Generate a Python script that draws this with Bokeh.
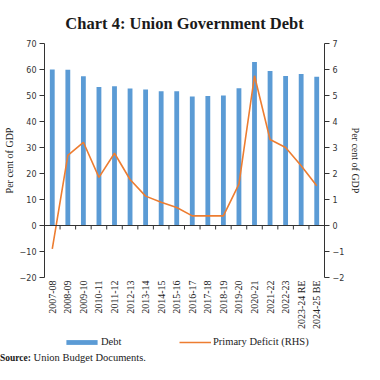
import math
from bokeh.plotting import figure
from bokeh.layouts import column
from bokeh.models import (FactorRange, Range1d, LinearAxis, FixedTicker, Title, Div,
                          Legend, LegendItem, Span)
from bokeh.embed import file_html
from bokeh.resources import INLINE

categories = ["2007-08", "2008-09", "2009-10", "2010-11", "2011-12", "2012-13",
              "2013-14", "2014-15", "2015-16", "2016-17", "2017-18", "2018-19",
              "2019-20", "2020-21", "2021-22", "2022-23", "2023-24 RE", "2024-25 BE"]
debt = [60.0, 59.9, 57.4, 53.3, 53.6, 52.7, 52.3, 51.6, 51.6, 49.6, 49.8, 50.0,
        52.8, 62.9, 59.4, 57.5, 58.3, 57.2]
primary_deficit = [-0.9, 2.7, 3.2, 1.85, 2.78, 1.77, 1.13, 0.89, 0.69, 0.37, 0.37, 0.37,
                   1.59, 5.76, 3.31, 3.0, 2.3, 1.53]
left_ticks = [-20, -10, 0, 10, 20, 30, 40, 50, 60, 70]
right_ticks = [-2, -1, 0, 1, 2, 3, 4, 5, 6, 7]

BAR = "#5B9BD5"
LINE = "#ED7D31"
AX = "#333333"
SERIF = "Liberation Serif"
SANS = "DejaVu Sans"

W = 364
FL, FR, FT, FB = 39, 38, 43, 54
FH = 235
H_MAIN = FT + FH + FB
H_LEG = 20
H_SRC = 364 - H_MAIN - H_LEG

# ---------------- main chart ----------------
p = figure(width=W, height=H_MAIN, x_range=FactorRange(*categories),
           y_range=Range1d(left_ticks[0], left_ticks[-1]),
           output_backend="svg", toolbar_location=None,
           min_border_left=FL, min_border_right=FR, min_border_top=FT, min_border_bottom=FB)
p.extra_y_ranges = {"rhs": Range1d(right_ticks[0], right_ticks[-1])}
p.outline_line_color = None
p.grid.visible = False
p.background_fill_color = "white"
p.border_fill_color = "white"

p.title = Title(text="Chart 4: Union Government Debt", align="center",
                text_font=SERIF, text_font_style="bold", text_font_size="16.5px",
                text_color="#1a1a1a", standoff=22)

p.vbar(x=categories, top=debt, width=0.31, color=BAR, line_color=None)
p.line(x=categories, y=primary_deficit, y_range_name="rhs", color=LINE, line_width=1.6)

p.add_layout(Span(location=0, dimension="width", line_color=AX, line_width=1))
tick_len = 4 * (left_ticks[-1] - left_ticks[0]) / FH
bounds = list(range(1, len(categories)))
p.segment(x0=bounds, x1=bounds, y0=[0] * len(bounds), y1=[-tick_len] * len(bounds),
          line_color=AX, line_width=1)

xa = p.xaxis[0]
xa.axis_line_color = None
xa.major_tick_line_color = None
xa.major_tick_out = 0
xa.major_tick_in = 0
xa.major_label_orientation = math.pi / 2
xa.major_label_standoff = 3
xa.major_label_text_font = SERIF
xa.major_label_text_font_size = "10px"
xa.major_label_text_color = "#222222"


def style_y(ax, standoff):
    ax.minor_tick_line_color = None
    ax.major_tick_out = 5
    ax.major_tick_in = 0
    ax.axis_line_color = AX
    ax.major_tick_line_color = AX
    ax.major_label_text_font = SANS
    ax.major_label_text_font_size = "8px"
    ax.major_label_text_color = "#333333"
    ax.major_label_standoff = 3
    ax.axis_label = "Per cent of GDP"
    ax.axis_label_text_font = SERIF
    ax.axis_label_text_font_style = "normal"
    ax.axis_label_text_font_size = "10px"
    ax.axis_label_text_color = "#222222"
    ax.axis_label_standoff = standoff


ya = p.yaxis[0]
ya.ticker = FixedTicker(ticks=left_ticks)
style_y(ya, 2)

ra = LinearAxis(y_range_name="rhs", ticker=FixedTicker(ticks=right_ticks))
style_y(ra, 3)
p.add_layout(ra, "right")

# ---------------- legend strip (series drawn out of view, keys shown) ----------------
f = figure(width=W, height=H_LEG, x_range=FactorRange(*categories), y_range=Range1d(100, 101),
           x_axis_type=None, y_axis_type=None, output_backend="svg", toolbar_location=None,
           min_border=0)
f.outline_line_color = None
f.grid.visible = False
f.background_fill_color = "white"
f.border_fill_color = "white"

key_bar = f.vbar(x=categories, top=debt, width=0.31, color=BAR, line_color=None)
key_line = f.line(x=categories, y=primary_deficit, color=LINE, line_width=1.6)

LEG_Y = 5
leg1 = Legend(items=[LegendItem(label="Debt", renderers=[key_bar])],
              location=(57 - FL, LEG_Y), orientation="horizontal",
              glyph_width=39, glyph_height=6, label_standoff=0, padding=0, margin=0,
              border_line_color=None, background_fill_alpha=0,
              label_text_font=SERIF, label_text_font_size="10.5px", label_text_color="#222222")
leg2 = Legend(items=[LegendItem(label="Primary Deficit (RHS)", renderers=[key_line])],
              location=(174 - FL, LEG_Y), orientation="horizontal",
              glyph_width=32, glyph_height=6, label_standoff=2, padding=0, margin=0,
              border_line_color=None, background_fill_alpha=0,
              label_text_font=SERIF, label_text_font_size="10.5px", label_text_color="#222222")
f.add_layout(leg1)
f.add_layout(leg2)

# ---------------- source line ----------------
src = Div(text='<span style="font-weight:bold;font-size:9.5px">Source:</span> '
               'Union Budget Documents.',
          width=W, height=H_SRC, margin=(0, 0, 0, 0),
          styles={"font-family": "'Liberation Serif', serif", "font-size": "10.5px",
                  "color": "#1a1a1a", "line-height": "12px", "white-space": "nowrap"})

page = column(p, f, src, spacing=0)

open("out.html", "w").write(file_html(page, INLINE))
